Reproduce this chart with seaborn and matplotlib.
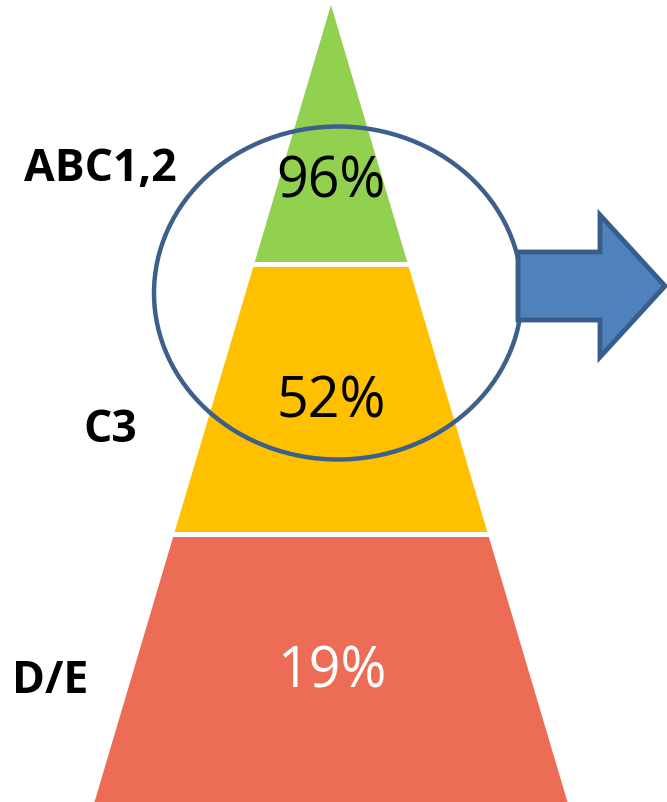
import numpy as np
import matplotlib
matplotlib.use("Agg")
import matplotlib.pyplot as plt
from matplotlib.patches import Ellipse, Polygon
import seaborn as sns

# data
groups = ["ABC1,2", "C3", "D/E"]
shares = [96, 52, 19]
fill_colors = ["#92d050", "#ffc000", "#ec6c55"]
share_text_colors = ["black", "black", "white"]

sns.set_style("white")
plt.rcParams["font.family"] = ["Open Sans", "DejaVu Sans"]

# layout (pixel coordinates)
apex = (331, 5)
base_y, base_half = 802, 236.5
seg_bounds = [(5, 262), (267, 532), (537, 802)]
share_pos = [(331, 197), (331, 418), (332, 688)]
label_pos = [(100, 181), (110, 442), (50, 693)]


def half_width(y):
    return base_half * (y - apex[1]) / (base_y - apex[1])


fig = plt.figure(figsize=(6.67, 8.02), dpi=100)
ax = fig.add_axes([0, 0, 1, 1])
ax.set_xlim(0, 667)
ax.set_ylim(802, 0)
ax.axis("off")

for (y0, y1), c in zip(seg_bounds, fill_colors):
    w0, w1 = half_width(y0), half_width(y1)
    pts = [(apex[0] - w0, y0), (apex[0] + w0, y0), (apex[0] + w1, y1), (apex[0] - w1, y1)]
    ax.add_patch(Polygon(pts, closed=True, facecolor=c, edgecolor="none"))

for s, (x, y), tc in zip(shares, share_pos, share_text_colors):
    ax.text(x, y, f"{s}%", ha="center", va="baseline", fontsize=40, color=tc)

for g, (x, y) in zip(groups, label_pos):
    ax.text(x, y, g, ha="center", va="baseline", fontsize=32, fontweight="bold", color="black")

ax.add_patch(Ellipse((338, 293), 368, 333, facecolor="none", edgecolor="#3d5f8c", linewidth=3.2))

arrow = [(518, 252), (600, 252), (600, 215), (665, 286), (600, 357), (600, 320), (518, 320)]
ax.add_patch(Polygon(arrow, closed=True, facecolor="#4f81bd", edgecolor="#385d8a",
                     linewidth=3.5, joinstyle="miter"))

fig.savefig("out.png", dpi=100)
